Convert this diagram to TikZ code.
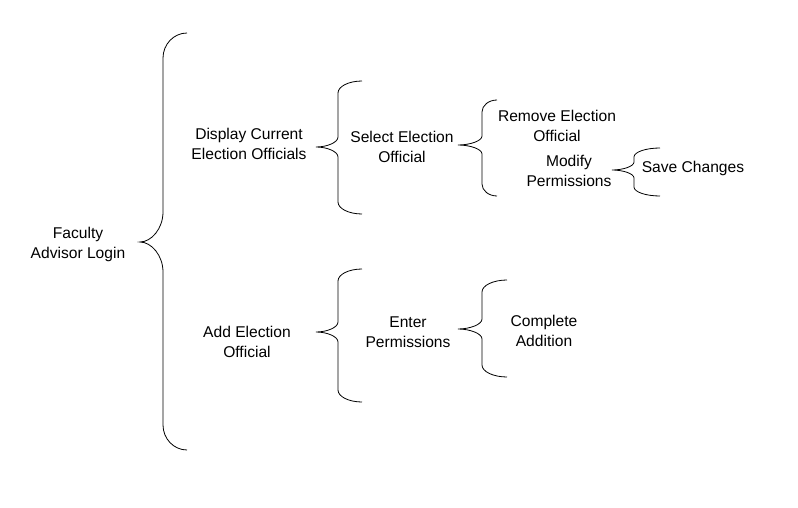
\documentclass[tikz,border=0pt]{standalone}
\usepackage{fontspec}
\setmainfont{Liberation Sans}
\newcommand{\hbrace}[8]{%
 \draw[bracestyle] (#4,#5) .. controls ({#3+0.45*(#4-#3)},#5) and (#3,{#5+0.45*#7}) .. (#3,{#5+#7})
 -- (#3,{#2-#8}) .. controls (#3,{#2-0.45*#8}) and ({#1+0.5*(#3-#1)},#2) .. (#1,#2)
 .. controls ({#1+0.5*(#3-#1)},#2) and (#3,{#2+0.45*#8}) .. (#3,{#2+#8})
 -- (#3,{#6-#7}) .. controls (#3,{#6-0.45*#7}) and ({#3+0.45*(#4-#3)},#6) .. (#4,#6);}
\begin{document}
\begin{tikzpicture}[x=1pt,y=-1pt,
  bracestyle/.style={draw=black,line width=0.8pt},
  lbl/.style={align=center,inner sep=0pt,font=\fontsize{15.6}{20}\selectfont}]
\useasboundingbox[fill=white] (0,0) rectangle (798,508);
\node[lbl] (fal) at (78,244) {Faculty\\Advisor Login};
\node[lbl] (dceo) at (249,144) {Display Current\\Election Officials};
\node[lbl] (seo) at (402,147) {Select Election\\Official};
\node[lbl] (reo) at (557,126) {Remove Election\\Official};
\node[lbl] (mp) at (569,171) {Modify\\Permissions};
\node[lbl] (sc) at (693,168) {Save Changes};
\node[lbl] (aeo) at (247,342) {Add Election\\Official};
\node[lbl] (ep) at (408,332) {Enter\\Permissions};
\node[lbl] (ca) at (544,331) {Complete\\Addition};
\hbrace{140}{242}{163}{187}{33}{450}{25}{30}
\hbrace{316}{147}{338}{362}{81}{214}{12}{10}
\hbrace{458}{145}{482}{497}{100}{196}{12}{9}
\hbrace{612}{170}{634}{660}{148}{196}{9}{8}
\hbrace{316}{332}{338}{362}{269}{402}{12}{10}
\hbrace{458}{329}{482}{507}{280}{377}{12}{10}
\end{tikzpicture}
\end{document}
